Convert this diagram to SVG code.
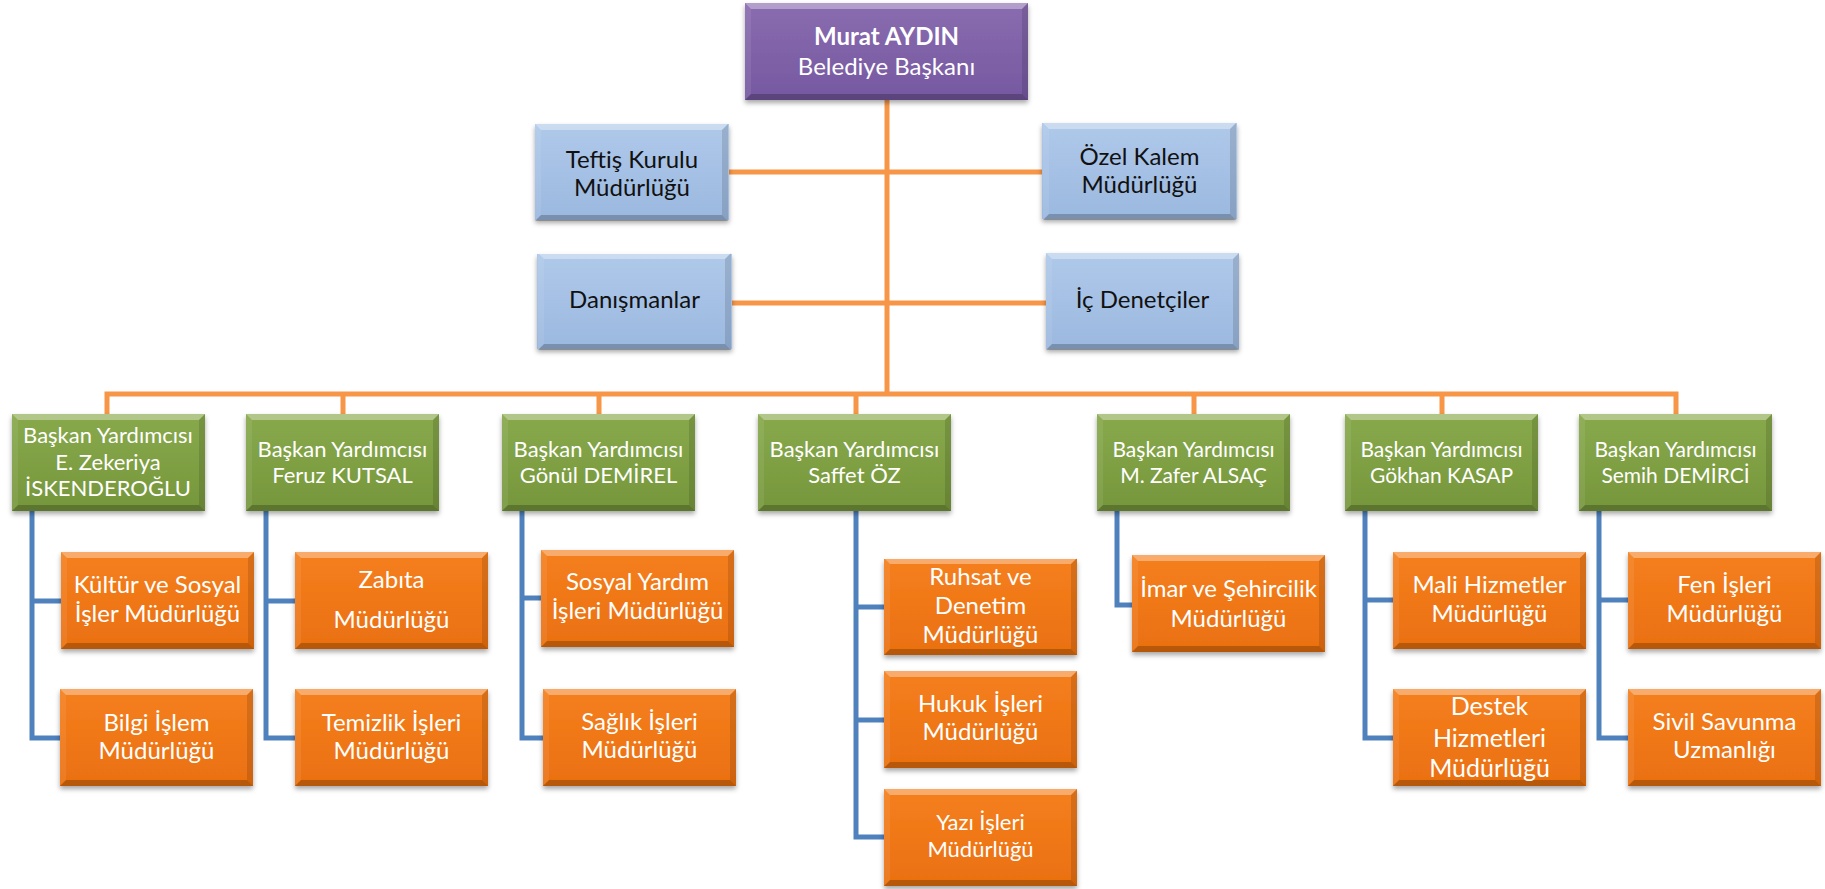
<svg xmlns="http://www.w3.org/2000/svg" xmlns:xlink="http://www.w3.org/1999/xlink" width="1825" height="889" viewBox="0 0 1825 889">
<defs>
<style>
.t{font-family:Lato,"Liberation Sans",sans-serif;text-anchor:middle;}
.w{fill:#ffffff;}
.k{fill:#111111;}
.g{font-size:22px;}
.g2{font-size:21px;}
.o{font-size:24px;}
.b{font-size:24px;}
.oc{fill:none;stroke:#F79646;stroke-width:5;}
.bc{fill:none;stroke:#4F81BD;stroke-width:5;}
.sh{filter:url(#shadow);}
</style>
<filter id="shadow" x="-10%" y="-10%" width="120%" height="130%">
<feDropShadow dx="0" dy="3" stdDeviation="2.5" flood-color="#000" flood-opacity="0.35"/>
</filter>
<linearGradient id="gPur" x1="0" y1="0" x2="0" y2="1"><stop offset="0" stop-color="#8A6CB0"/><stop offset="1" stop-color="#7558A0"/></linearGradient>
<linearGradient id="gBlu" x1="0" y1="0" x2="0" y2="1"><stop offset="0" stop-color="#AFC9EA"/><stop offset="1" stop-color="#9BB8DF"/></linearGradient>
<linearGradient id="gGrn" x1="0" y1="0" x2="0" y2="1"><stop offset="0" stop-color="#88A94B"/><stop offset="1" stop-color="#76963C"/></linearGradient>
<linearGradient id="gOrg" x1="0" y1="0" x2="0" y2="1"><stop offset="0" stop-color="#F57F1E"/><stop offset="1" stop-color="#EA7010"/></linearGradient>
<g id="bev">
<polygon points="0,0 193,0 187,6 6,6" fill="#ffffff" fill-opacity="0.35"/>
<polygon points="0,97 193,97 187,91 6,91" fill="#000000" fill-opacity="0.22"/>
<polygon points="0,0 6,6 6,91 0,97" fill="#ffffff" fill-opacity="0.08"/>
<polygon points="193,0 187,6 187,91 193,97" fill="#000000" fill-opacity="0.12"/>
</g>
</defs>
<rect width="1825" height="889" fill="#ffffff"/>
<g id="connectors">
<path class="oc" d="M887,100 V394 M729,172 H1042 M732,303 H1046 M107,414 V394 H1676 V414 M343,394 V414 M599,394 V414 M856,394 V414 M1194,394 V414 M1442,394 V414"/>
<path class="bc" d="M32,511 V738 H60 M32,601 H61"/>
<path class="bc" d="M266,511 V738 H295 M266,601 H295"/>
<path class="bc" d="M522,511 V738 H543 M522,598 H541"/>
<path class="bc" d="M856,511 V837 H884 M856,607 H884 M856,720 H884"/>
<path class="bc" d="M1117,511 V605 H1132"/>
<path class="bc" d="M1365,511 V738 H1393 M1365,600 H1393"/>
<path class="bc" d="M1599,511 V738 H1628 M1599,600 H1628"/>
</g>
<g id="baskan">
<rect class="sh" x="745" y="3" width="283" height="97" fill="url(#gPur)"/>
<polygon points="745,3 1028,3 1022,9 751,9" fill="#fff" fill-opacity="0.35"/>
<polygon points="745,100 1028,100 1022,94 751,94" fill="#000" fill-opacity="0.22"/>
<polygon points="1028,3 1022,9 1022,94 1028,100" fill="#000" fill-opacity="0.12"/>
<polygon points="745,3 751,9 751,94 745,100" fill="#fff" fill-opacity="0.08"/>
<text class="t w" x="886.5" y="45" font-size="24" font-weight="bold">Murat AYDIN</text>
<text class="t w" x="886.5" y="75" font-size="24">Belediye Başkanı</text>
</g>
<g id="teftis">
<rect class="sh" x="535" y="124" width="194" height="96" fill="url(#gBlu)"/><use href="#bev" x="535" y="124"/>
<text class="t k b" x="632" y="168">Teftiş Kurulu</text><text class="t k b" x="632" y="196">Müdürlüğü</text>
</g>
<g id="ozelkalem">
<rect class="sh" x="1042" y="123" width="195" height="96" fill="url(#gBlu)"/><use href="#bev" x="1043" y="123"/>
<text class="t k b" x="1139.5" y="165">Özel Kalem</text><text class="t k b" x="1139.5" y="193">Müdürlüğü</text>
</g>
<g id="danismanlar">
<rect class="sh" x="537" y="254" width="195" height="95" fill="url(#gBlu)"/><use href="#bev" x="538" y="253"/>
<text class="t k b" x="634.5" y="308">Danışmanlar</text>
</g>
<g id="icdenetciler">
<rect class="sh" x="1046" y="253" width="193" height="96" fill="url(#gBlu)"/><use href="#bev" x="1046" y="253"/>
<text class="t k b" x="1142.5" y="308">İç Denetçiler</text>
</g>
<g id="by1">
<rect class="sh" x="12" y="414" width="193" height="97" fill="url(#gGrn)"/><use href="#bev" x="12" y="414"/>
<text class="t w g" x="108" y="443">Başkan Yardımcısı</text><text class="t w g" x="108" y="470">E. Zekeriya</text><text class="t w g" x="108" y="496">İSKENDEROĞLU</text>
</g>
<g id="by2">
<rect class="sh" x="246" y="414" width="193" height="97" fill="url(#gGrn)"/><use href="#bev" x="246" y="414"/>
<text class="t w g" x="342.5" y="457">Başkan Yardımcısı</text><text class="t w g" x="342.5" y="483">Feruz KUTSAL</text>
</g>
<g id="by3">
<rect class="sh" x="502" y="414" width="193" height="97" fill="url(#gGrn)"/><use href="#bev" x="502" y="414"/>
<text class="t w g" x="598.5" y="457">Başkan Yardımcısı</text><text class="t w g" x="598.5" y="483">Gönül DEMİREL</text>
</g>
<g id="by4">
<rect class="sh" x="758" y="414" width="193" height="97" fill="url(#gGrn)"/><use href="#bev" x="758" y="414"/>
<text class="t w g" x="854.5" y="457">Başkan Yardımcısı</text><text class="t w g" x="854.5" y="483">Saffet ÖZ</text>
</g>
<g id="by5">
<rect class="sh" x="1097" y="414" width="193" height="97" fill="url(#gGrn)"/><use href="#bev" x="1097" y="414"/>
<text class="t w g2" x="1193.5" y="457">Başkan Yardımcısı</text><text class="t w g2" x="1193.5" y="483">M. Zafer ALSAÇ</text>
</g>
<g id="by6">
<rect class="sh" x="1345" y="414" width="193" height="97" fill="url(#gGrn)"/><use href="#bev" x="1345" y="414"/>
<text class="t w g2" x="1441.5" y="457">Başkan Yardımcısı</text><text class="t w g2" x="1441.5" y="483">Gökhan KASAP</text>
</g>
<g id="by7">
<rect class="sh" x="1579" y="414" width="193" height="97" fill="url(#gGrn)"/><use href="#bev" x="1579" y="414"/>
<text class="t w g2" x="1675.5" y="457">Başkan Yardımcısı</text><text class="t w g2" x="1675.5" y="483">Semih DEMİRCİ</text>
</g>
<g id="kultur">
<rect class="sh" x="61" y="552" width="193" height="97" fill="url(#gOrg)"/><use href="#bev" x="61" y="552"/>
<text class="t w o" x="157.5" y="593">Kültür ve Sosyal</text><text class="t w o" x="157.5" y="622">İşler Müdürlüğü</text>
</g>
<g id="bilgi">
<rect class="sh" x="60" y="689" width="193" height="97" fill="url(#gOrg)"/><use href="#bev" x="60" y="689"/>
<text class="t w o" x="156.5" y="731">Bilgi İşlem</text><text class="t w o" x="156.5" y="759">Müdürlüğü</text>
</g>
<g id="zabita">
<rect class="sh" x="295" y="552" width="193" height="97" fill="url(#gOrg)"/><use href="#bev" x="295" y="552"/>
<text class="t w o" x="391.5" y="588">Zabıta</text><text class="t w o" x="391.5" y="628">Müdürlüğü</text>
</g>
<g id="temizlik">
<rect class="sh" x="295" y="689" width="193" height="97" fill="url(#gOrg)"/><use href="#bev" x="295" y="689"/>
<text class="t w o" x="391.5" y="731">Temizlik İşleri</text><text class="t w o" x="391.5" y="759">Müdürlüğü</text>
</g>
<g id="sosyal">
<rect class="sh" x="541" y="550" width="193" height="97" fill="url(#gOrg)"/><use href="#bev" x="541" y="550"/>
<text class="t w o" x="637.5" y="590">Sosyal Yardım</text><text class="t w o" x="637.5" y="619">İşleri Müdürlüğü</text>
</g>
<g id="saglik">
<rect class="sh" x="543" y="689" width="193" height="97" fill="url(#gOrg)"/><use href="#bev" x="543" y="689"/>
<text class="t w o" x="639.5" y="730">Sağlık İşleri</text><text class="t w o" x="639.5" y="758">Müdürlüğü</text>
</g>
<g id="ruhsat">
<rect class="sh" x="884" y="559" width="193" height="96" fill="url(#gOrg)"/><use href="#bev" x="884" y="558"/>
<text class="t w o" x="980.5" y="585">Ruhsat ve</text><text class="t w o" x="980.5" y="614">Denetim</text><text class="t w o" x="980.5" y="643">Müdürlüğü</text>
</g>
<g id="hukuk">
<rect class="sh" x="884" y="671" width="193" height="97" fill="url(#gOrg)"/><use href="#bev" x="884" y="671"/>
<text class="t w o" x="980.5" y="712">Hukuk İşleri</text><text class="t w o" x="980.5" y="740">Müdürlüğü</text>
</g>
<g id="yazi">
<rect class="sh" x="884" y="789" width="193" height="97" fill="url(#gOrg)"/><use href="#bev" x="884" y="789"/>
<text class="t w" x="980.5" y="830" font-size="22">Yazı İşleri</text><text class="t w" x="980.5" y="857" font-size="22">Müdürlüğü</text>
</g>
<g id="imar">
<rect class="sh" x="1132" y="555" width="193" height="97" fill="url(#gOrg)"/><use href="#bev" x="1132" y="555"/>
<text class="t w o" x="1228.5" y="597">İmar ve Şehircilik</text><text class="t w o" x="1228.5" y="627">Müdürlüğü</text>
</g>
<g id="mali">
<rect class="sh" x="1393" y="552" width="193" height="97" fill="url(#gOrg)"/><use href="#bev" x="1393" y="552"/>
<text class="t w o" x="1489.5" y="593">Mali Hizmetler</text><text class="t w o" x="1489.5" y="622">Müdürlüğü</text>
</g>
<g id="destek">
<rect class="sh" x="1393" y="689" width="193" height="97" fill="url(#gOrg)"/><use href="#bev" x="1393" y="689"/>
<text class="t w" x="1489.5" y="715" font-size="25">Destek</text><text class="t w" x="1489.5" y="747" font-size="25">Hizmetleri</text><text class="t w" x="1489.5" y="777" font-size="25">Müdürlüğü</text>
</g>
<g id="fen">
<rect class="sh" x="1628" y="552" width="193" height="97" fill="url(#gOrg)"/><use href="#bev" x="1628" y="552"/>
<text class="t w o" x="1724.5" y="593">Fen İşleri</text><text class="t w o" x="1724.5" y="622">Müdürlüğü</text>
</g>
<g id="sivil">
<rect class="sh" x="1628" y="689" width="193" height="97" fill="url(#gOrg)"/><use href="#bev" x="1628" y="689"/>
<text class="t w o" x="1724.5" y="730">Sivil Savunma</text><text class="t w o" x="1724.5" y="758">Uzmanlığı</text>
</g>
</svg>
